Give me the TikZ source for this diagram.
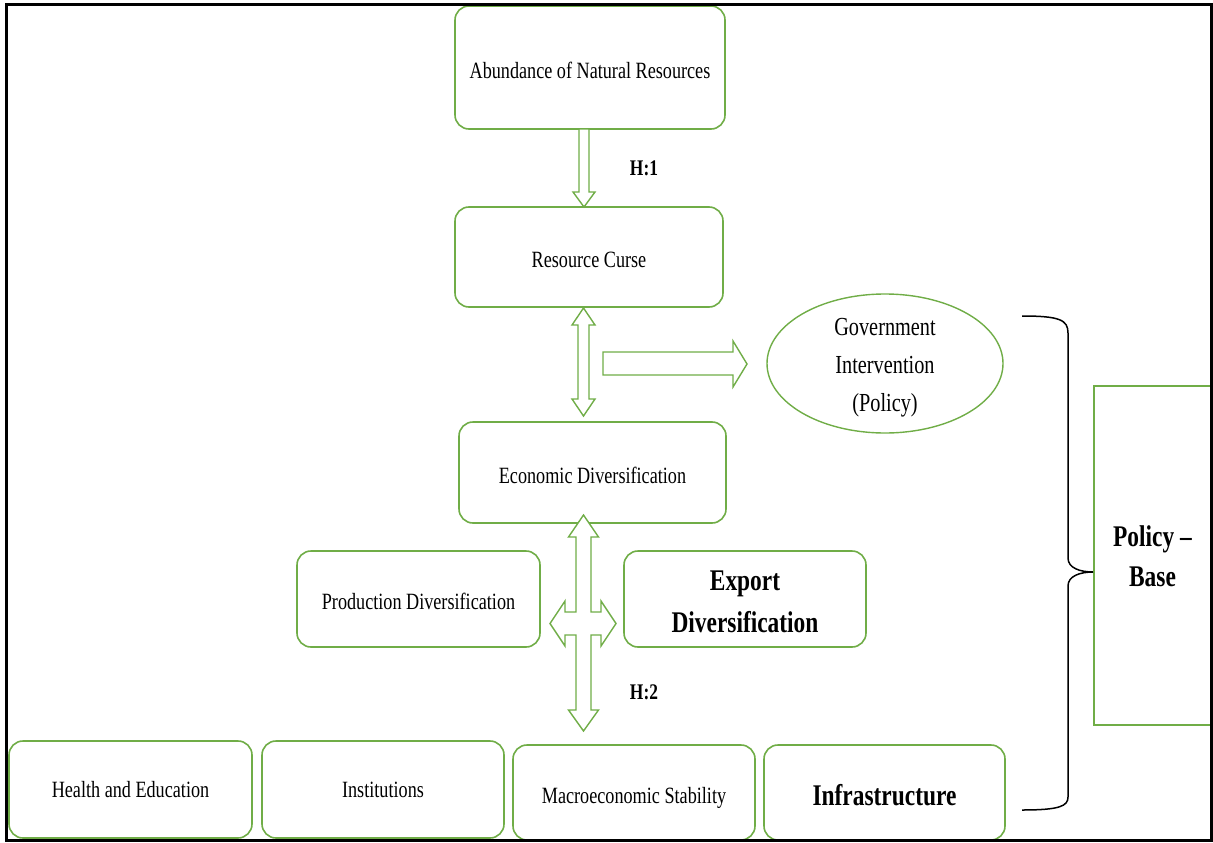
\documentclass[tikz,border=0pt]{standalone}
\usepackage{fontspec}
\setmainfont{Liberation Serif}[FakeStretch=0.78]
\usetikzlibrary{shapes.geometric}
\definecolor{leaf}{RGB}{112,173,71}
\tikzset{
  rbox/.style={draw=leaf, line width=1.6pt, rounded corners=14pt, fill=white,
    inner sep=0pt, align=center, font=\fontsize{23.3}{27}\selectfont},
  lowtext/.style={text height=22pt, text depth=0.6pt},
  boldtxt/.style={font=\bfseries\fontsize{30}{42}\selectfont},
  hlabel/.style={font=\bfseries\fontsize{22.3}{26}\selectfont, inner sep=0pt},
  blockarrow/.style={draw=leaf, line width=1.4pt, fill=white, line join=miter},
  bracket/.style={draw=black, line width=1.5pt},
  frameline/.style={draw=black, line width=3pt}
}
\begin{document}
\begin{tikzpicture}[x=1pt, y=-1pt]
\useasboundingbox (0,0) rectangle (1213,843);

% main chain
\node[rbox, lowtext, minimum width=270pt, minimum height=123pt] (abund) at (590,67.5) {Abundance of Natural Resources};
\node[rbox, lowtext, minimum width=268pt, minimum height=100pt] (curse) at (589,257) {Resource Curse};
\node[rbox, lowtext, minimum width=267pt, minimum height=101pt] (econ) at (592.5,472.5) {Economic Diversification};

% diversification channels
\node[rbox, lowtext, minimum width=243pt, minimum height=96pt] (prod) at (418.5,599) {Production Diversification};
\node[rbox, boldtxt, minimum width=242pt, minimum height=96pt] (export) at (745,599) {\rule{0pt}{25pt}Export\\Diversification};

% outcome factors
\node[rbox, minimum width=243pt, minimum height=97pt] (health) at (130.5,789.5) {Health and Education};
\node[rbox, minimum width=242pt, minimum height=97pt] (inst) at (383,789.5) {Institutions};
\node[rbox, lowtext, minimum width=242pt, minimum height=95pt] (macro) at (634,792.5) {Macroeconomic Stability};
\node[rbox, boldtxt, text height=27pt, text depth=0.6pt, minimum width=241pt, minimum height=95pt] (infra) at (884.5,792.5) {Infrastructure};

% government intervention
\node[ellipse, draw=leaf, line width=1.4pt, minimum width=236pt, minimum height=139pt,
  inner xsep=0pt, inner ysep=-8pt, align=center, font=\fontsize{26}{38}\selectfont] (gov) at (885,363.5)
  {\rule{0pt}{26pt}Government\\Intervention\\(Policy)};

% policy base panel
\node[draw=leaf, line width=1.4pt, minimum width=117pt, minimum height=339pt, inner sep=0pt,
  align=center, font=\bfseries\fontsize{30}{40}\selectfont] (pbase) at (1152.5,555.5) {\rule{0pt}{23pt}Policy –\\Base};

% hypothesis labels
\node[hlabel] (h1) at (644,168) {H:1};
\node[hlabel] (h2) at (644,692) {H:2};

% H:1 arrow, abundance -> curse
\draw[blockarrow] (579,129) -- (589,129) -- (589,192) -- (595,192) -- (584,207)
  -- (573,192) -- (579,192) -- cycle;

% two-way arrow, curse <-> diversification
\draw[blockarrow] (583.5,308) -- (595,325) -- (589,325) -- (589,399) -- (595,399)
  -- (583.5,416) -- (572,399) -- (578,399) -- (578,325) -- (572,325) -- cycle;

% arrow toward government intervention
\draw[blockarrow] (603,352) -- (733,352) -- (733,341) -- (747,364) -- (733,387)
  -- (733,375) -- (603,375) -- cycle;

% four-way arrow below economic diversification
\draw[blockarrow] (583.5,515) -- (598.5,537) -- (591,537) -- (591,612) -- (601,612)
  -- (601,601) -- (616,623.5) -- (601,646) -- (601,635) -- (591,635) -- (591,710)
  -- (598.5,710) -- (583.5,731) -- (568.5,710) -- (576,710) -- (576,635) -- (565,635)
  -- (565,646) -- (550,623.5) -- (565,601) -- (565,612) -- (576,612) -- (576,537)
  -- (568.5,537) -- cycle;

% curly bracket grouping policy factors
\draw[bracket] (1022,316) .. controls (1060,316) and (1068,320) .. (1068,333)
  -- (1068,558) .. controls (1068,568) and (1080,572) .. (1093,572)
  .. controls (1080,572) and (1068,576) .. (1068,586)
  -- (1068,797) .. controls (1068,806) and (1060,810) .. (1022,810);

% outer frame
\draw[frameline] (6.5,4.5) rectangle (1211.5,840.5);
\end{tikzpicture}
\end{document}
